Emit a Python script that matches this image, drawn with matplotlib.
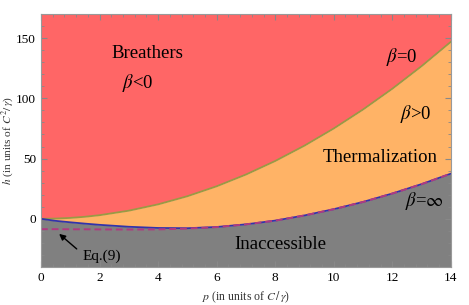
import numpy as np
import matplotlib
matplotlib.use("Agg")
import matplotlib.pyplot as plt
from matplotlib.ticker import MultipleLocator

plt.rcParams['font.family'] = ['Liberation Serif', 'DejaVu Serif']
plt.rcParams['mathtext.fontset'] = 'stix'

# Data
p_vals = [0, 0.5, 1, 1.5, 2, 3, 4, 5, 6, 7, 8, 9, 10, 11, 12, 13, 14]
h_beta0 = [0, 0.19, 0.75, 1.69, 3.0, 6.75, 12.0, 18.75, 27.0, 36.75, 48.0, 60.75, 75.0, 90.75, 108.0, 126.75, 147.0]
h_betainf = [0, -1.7, -2.9, -4.0, -5.0, -6.6, -7.6, -7.8, -6.8, -4.6, -1.5, 2.8, 8.0, 14.0, 21.0, 28.8, 37.5]
h_eq9 = [-8.6, -8.6, -8.7, -8.7, -8.8, -8.9, -8.8, -8.1, -6.9, -4.6, -1.5, 2.8, 8.0, 14.0, 21.0, 28.8, 37.5]

x_ticks = [0, 2, 4, 6, 8, 10, 12, 14]
y_ticks = [0, 50, 100, 150]

fig = plt.figure(figsize=(4.69, 3.05), dpi=100)
ax = fig.add_axes([0.0874, 0.1246, 0.874, 0.8294])

ymin, ymax = -40, 170
ax.fill_between(p_vals, h_beta0, ymax, color='#FF6666', lw=0)
ax.fill_between(p_vals, h_betainf, h_beta0, color='#FFB366', lw=0)
ax.fill_between(p_vals, ymin, h_betainf, color='#808080', lw=0)
ax.plot(p_vals, h_beta0, color='#9A9A44', lw=1.3)
ax.plot(p_vals, h_betainf, color='#3333AA', lw=1.3)
ax.plot(p_vals, h_eq9, color='#B03A80', lw=1.4, ls=(0, (3.5, 2)))

ax.set_xlim(0, 14)
ax.set_ylim(ymin, ymax)
ax.set_xticks(x_ticks)
ax.set_yticks(y_ticks)
ax.xaxis.set_minor_locator(MultipleLocator(0.4))
ax.yaxis.set_minor_locator(MultipleLocator(10))
ax.tick_params(which='both', direction='in', top=True, right=True, color='#888888', labelsize=9.5)
ax.tick_params(which='major', length=4)
ax.tick_params(which='minor', length=2)
for s in ax.spines.values():
    s.set_color('#999999')
    s.set_linewidth(0.8)

ax.set_xlabel(r'$p$ (in units of $C\,/\,\gamma$)', fontsize=8.5, color='#333333', labelpad=4)
ax.set_ylabel(r'$h$ (in units of $C^2/\,\gamma$)', fontsize=8.2, color='#333333')
ax.yaxis.set_label_coords(-0.06, 0.5)

fs = 13.5
ax.text(3.62, 137.5, 'Breathers', fontsize=fs, ha='center', va='center')
ax.text(3.31, 113, r'$\beta$<0', fontsize=fs, ha='center', va='center')
ax.text(12.33, 134, r'$\beta$=0', fontsize=fs, ha='center', va='center')
ax.text(12.8, 87, r'$\beta$>0', fontsize=fs, ha='center', va='center')
ax.text(11.57, 51, 'Thermalization', fontsize=fs, ha='center', va='center')
ax.text(13.1, 15, r'$\beta$=$\infty$', fontsize=fs, ha='center', va='center')
ax.text(8.16, -21, 'Inaccessible', fontsize=fs, ha='center', va='center')
ax.text(2.08, -31, 'Eq.(9)', fontsize=11, ha='center', va='center')
ax.annotate('', xy=(0.62, -12.5), xytext=(1.22, -25),
            arrowprops=dict(arrowstyle='-|>', color='black', lw=1, shrinkA=0, shrinkB=0,
                            mutation_scale=9))

fig.savefig('out.png', dpi=100)
